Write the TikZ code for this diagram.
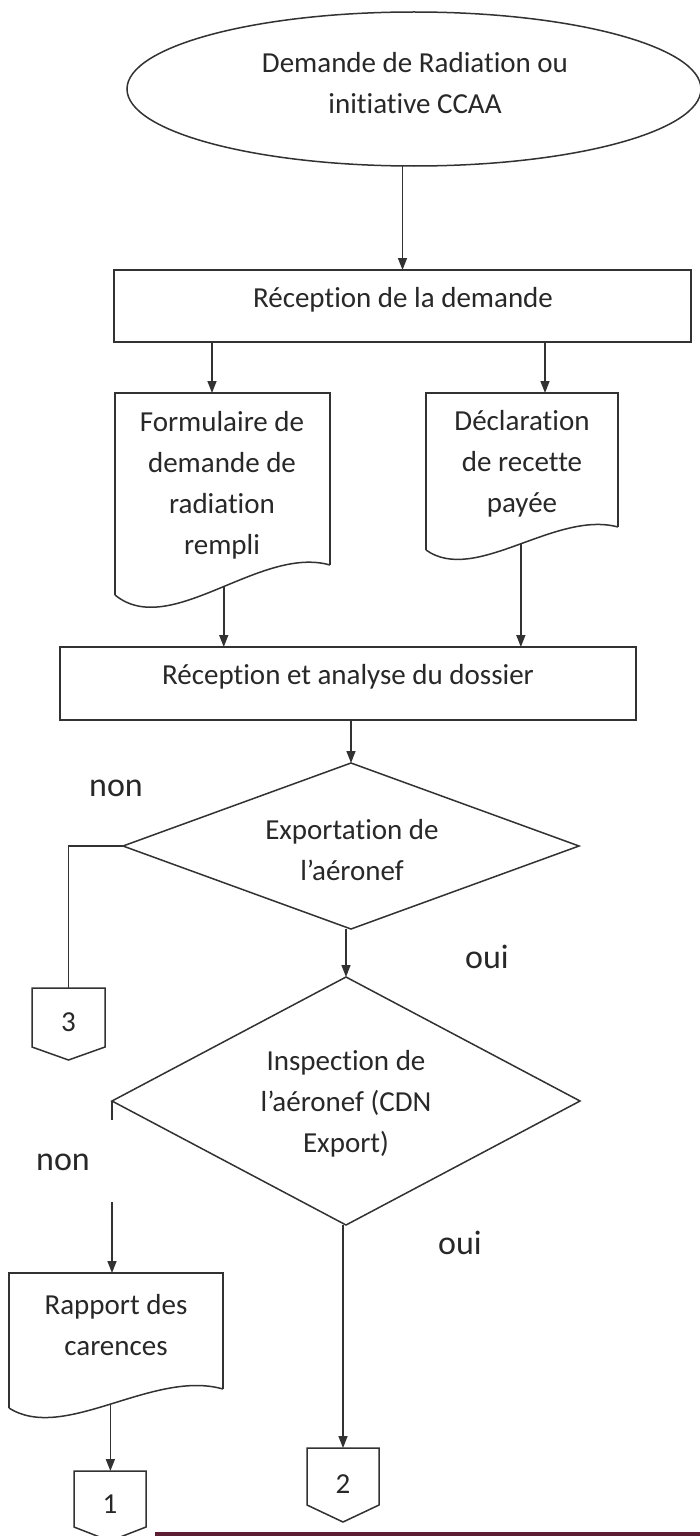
\documentclass[tikz,border=0pt]{standalone}
\usepackage{fontspec}
\setmainfont{Carlito}[Ligatures=NoCommon]
\usetikzlibrary{arrows.meta,shapes.geometric}
\definecolor{ink}{RGB}{50,50,50}
\definecolor{txtc}{RGB}{40,40,40}
\definecolor{barc}{RGB}{92,30,50}
\begin{document}
\begin{tikzpicture}[x=1pt,y=-1pt,
  every node/.style={inner sep=0pt, outer sep=0pt},
  shp/.style={draw=ink, line width=1.5pt},
  box/.style={shp, rectangle},
  anchorbox/.style={draw=none, rectangle},
  lbl/.style={text=txtc, font=\fontsize{29}{41}\selectfont, align=center},
  yn/.style={text=txtc, font=\fontsize{34}{40}\selectfont},
  arr/.style={draw=ink, line width=1.5pt, -{Triangle[length=12pt,width=9pt]}},
  lin/.style={draw=ink, line width=1.5pt},
]
\useasboundingbox[fill=white] (0,0) rectangle (700,1536);

% start ellipse
\node[shp, ellipse, minimum width=574, minimum height=154] (start) at (414,89) {};
\node[lbl] (startt) at (415,83) {Demande de Radiation ou\\initiative CCAA};

% reception de la demande
\node[box, minimum width=577, minimum height=72] (recv) at (402.5,306) {};
\node[lbl] (recvt) at (403,300) {Réception de la demande};

% document 1
\node[anchorbox, minimum width=215, minimum height=172] (d1) at (222.5,479) {};
\node[lbl] (d1t) at (222,485) {Formulaire de\\demande de\\radiation\\rempli};
\draw[shp] ([yshift=-30pt]d1.south west) -- (d1.north west) -- (d1.north east) -- (d1.south east);
\draw[shp] (d1.south east) .. controls +(-70,-20) and +(55,45) .. ([yshift=-30pt]d1.south west) coordinate[pos=0.47] (w1);

% document 2
\node[anchorbox, minimum width=192, minimum height=134] (d2) at (522,460) {};
\node[lbl] (d2t) at (522,464) {Déclaration\\de recette\\payée};
\draw[shp] ([yshift=-23pt]d2.south west) -- (d2.north west) -- (d2.north east) -- (d2.south east);
\draw[shp] (d2.south east) .. controls +(-63,-17) and +(49,35) .. ([yshift=-23pt]d2.south west) coordinate[pos=0.48] (w2);

% reception et analyse
\node[box, minimum width=576, minimum height=73] (an) at (348,683.5) {};
\node[lbl] (ant) at (348,677) {Réception et analyse du dossier};

% decision 1
\node[shp, diamond, minimum width=456, minimum height=166] (q1) at (351,846) {};
\node[lbl] (q1t) at (352,850) {Exportation de\\l’aéronef};

% decision 2
\node[shp, diamond, minimum width=468, minimum height=248] (q2) at (346,1101) {};
\node[lbl] (q2t) at (346,1104) {Inspection de\\l’aéronef (CDN\\Export)};

% document 3
\node[anchorbox, minimum width=214, minimum height=116] (d3) at (116,1331) {};
\node[lbl] (d3t) at (116,1325) {Rapport des\\carences};
\draw[shp] ([yshift=-19pt]d3.south west) -- (d3.north west) -- (d3.north east) -- (d3.south east);
\draw[shp] (d3.south east) .. controls +(-70,-20) and +(55,35) .. ([yshift=-19pt]d3.south west) coordinate[pos=0.5] (w3);

% off-page connectors
\node[anchorbox, minimum width=73, minimum height=59] (c3) at (68.5,1017.5) {};
\draw[shp] (c3.north west) -- (c3.north east) -- (c3.south east) -- ([yshift=-13pt]c3.south) -- (c3.south west) -- cycle;
\node[lbl] (c3t) at (68.5,1022) {3};

\node[anchorbox, minimum width=72, minimum height=57] (c2) at (343,1476.5) {};
\draw[shp] (c2.north west) -- (c2.north east) -- (c2.south east) -- ([yshift=-17pt]c2.south) -- (c2.south west) -- cycle;
\node[lbl] (c2t) at (343,1484) {2};

\node[anchorbox, minimum width=72, minimum height=56] (c1) at (110,1499) {};
\draw[shp] (c1.north west) -- (c1.north east) -- (c1.south east) -- ([yshift=-14pt]c1.south) -- (c1.south west) -- cycle;
\node[lbl] (c1t) at (110,1504) {1};

% labels
\node[yn] (non1) at (116,788) {non};
\node[yn] (oui1) at (487,957) {oui};
\node[yn] (non2) at (63,1162) {non};
\node[yn] (oui2) at (460,1243) {oui};

% connectors
\draw[arr] (recv.north |- start.south) -- (recv.north);
\draw[arr] ([xshift=-10.5pt]d1.north |- recv.south) -- ([xshift=-10.5pt]d1.north);
\draw[arr] ([xshift=23pt]d2.north |- recv.south) -- ([xshift=23pt]d2.north);
\draw[arr] (w1) -- (w1 |- an.north);
\draw[arr] (w2) -- (w2 |- an.north);
\draw[arr] (q1.north |- an.south) -- (q1.north);
\draw[lin] (q1.west) -| (c3.north);
\draw[arr] (q2.north |- q1.south) -- (q2.north);
\coordinate (g1) at (112,1120);
\coordinate (g2) at (112,1202);
\draw[lin] (q2.west) -- (q2.west |- g1);
\draw[arr] (q2.west |- g2) -- (q2.west |- d3.north);
\draw[arr] (c2.north |- q2.south) -- (c2.north);
\draw[arr] (w3) -- (w3 |- c1.north);

% bottom bar
\coordinate (b1) at (155,1532);
\coordinate (b2) at (700,1536);
\fill[barc] (b1) rectangle (b2);
\end{tikzpicture}
\end{document}
